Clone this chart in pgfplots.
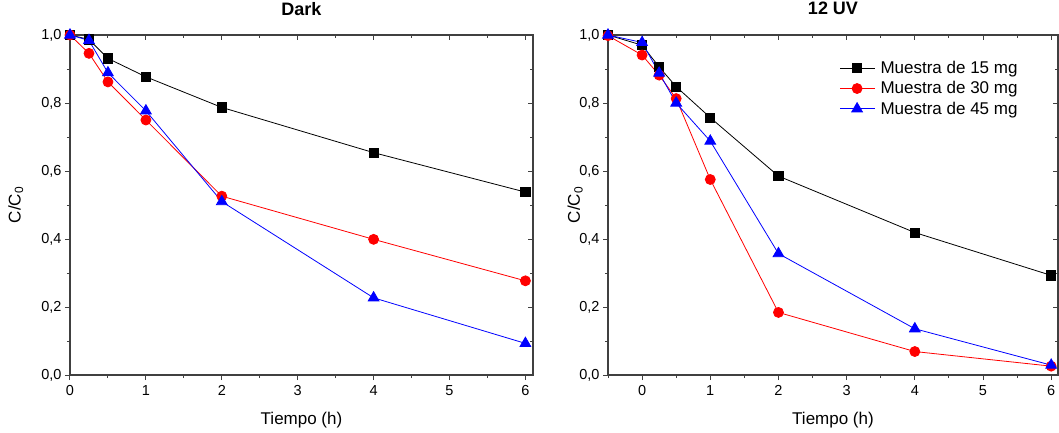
\documentclass[border=0pt]{standalone}
\usepackage{pgfplots}
\pgfplotsset{compat=1.18}
\usepackage{fontspec}
\setmainfont{Liberation Sans}
\begin{document}
\begin{tikzpicture}
\pgfplotsset{
  frame/.style={scale only axis, height=340pt, ymin=0, ymax=1.0, xmax=6.1,
    ytick={0,0.2,0.4,0.6,0.8,1.0}, minor ytick={0.1,0.3,0.5,0.7,0.9},
    xtick={0,1,2,3,4,5,6}, minor xtick={-0.5,0.5,1.5,2.5,3.5,4.5,5.5},
    axis line style={line width=1.1pt, black!75},
    every tick/.style={line width=1pt, black!75},
    major tick length=5pt, minor tick length=3pt,
    anchor=south west},
  main/.style={frame, tick align=outside, xtick pos=bottom, ytick pos=left,
    clip=false,
    tick label style={font=\fontsize{14.5}{16}\selectfont},
    /pgf/number format/assume math mode=true,
    yticklabel style={/pgf/number format/.cd, use comma, fixed, fixed zerofill, precision=1},
    xticklabel style={yshift=-2pt},
    label style={font=\fontsize{17}{20}\selectfont},
    title style={font=\fontsize{18}{21}\selectfont\bfseries, at={(axis description cs:0.5,1.06)}, anchor=center},
    xlabel style={at={(axis description cs:0.5,-0.132)}, anchor=center},
    xlabel={Tiempo (h)}, ylabel={C/C\textsubscript{0}},
    every axis plot/.append style={line width=0.8pt},
  },
  over/.style={frame, tick align=inside, xtick pos=top, ytick pos=right,
    xticklabels={}, yticklabels={}},
  s15/.style={black, mark=square*, mark size=4.6pt, mark options={solid}},
  s30/.style={red, mark=*, mark size=5pt},
  s45/.style={blue, mark=triangle*, mark size=6.2pt},
}
\path[use as bounding box] (0,0) rectangle (1059pt,432pt);

% ---------- Dark ----------
\begin{axis}[over, at={(70pt,57pt)}, width=463pt, xmin=0]
\end{axis}
\begin{axis}[main, at={(70pt,57pt)}, width=463pt, xmin=0, title={Dark},
  ylabel style={at={(axis description cs:-0.117,0.5)}, anchor=center}]
\addplot[s15] coordinates {(0,1.0) (0.25,0.987) (0.5,0.931) (1,0.877) (2,0.787) (4,0.654) (6,0.538)};
\addplot[s30] coordinates {(0,1.0) (0.25,0.946) (0.5,0.862) (1,0.750) (2,0.526) (4,0.399) (6,0.277)};
\addplot[s45] coordinates {(0,1.0) (0.25,0.984) (0.5,0.889) (1,0.777) (2,0.510) (4,0.227) (6,0.093)};
\end{axis}

% ---------- 12 UV ----------
\begin{axis}[over, at={(608pt,57pt)}, width=450pt, xmin=-0.5]
\end{axis}
\begin{axis}[main, at={(608pt,57pt)}, width=450pt, xmin=-0.5, title={12 UV},
  ylabel style={at={(axis description cs:-0.073,0.5)}, anchor=center},
  legend style={at={(axis description cs:0.51,0.935)}, anchor=north west, draw=none, fill=none,
    font=\fontsize{17}{20}\selectfont, row sep=2.5pt, inner sep=2pt,
    /tikz/every odd column/.append style={column sep=3pt}},
  legend cell align=left,
  legend image code/.code={\draw[mark repeat=2,mark phase=2] plot coordinates {(0pt,0pt) (17pt,0pt) (35pt,0pt)};}]
\addplot[s15] coordinates {(-0.5,1.0) (0,0.970) (0.25,0.906) (0.5,0.848) (1,0.757) (2,0.585) (4,0.419) (6,0.293)};
\addlegendentry{Muestra de 15 mg}
\addplot[s30] coordinates {(-0.5,0.998) (0,0.941) (0.25,0.882) (0.5,0.813) (1,0.575) (2,0.184) (4,0.069) (6,0.026)};
\addlegendentry{Muestra de 30 mg}
\addplot[s45] coordinates {(-0.5,1.0) (0,0.978) (0.25,0.888) (0.5,0.800) (1,0.688) (2,0.357) (4,0.136) (6,0.029)};
\addlegendentry{Muestra de 45 mg}
\end{axis}
\end{tikzpicture}
\end{document}
